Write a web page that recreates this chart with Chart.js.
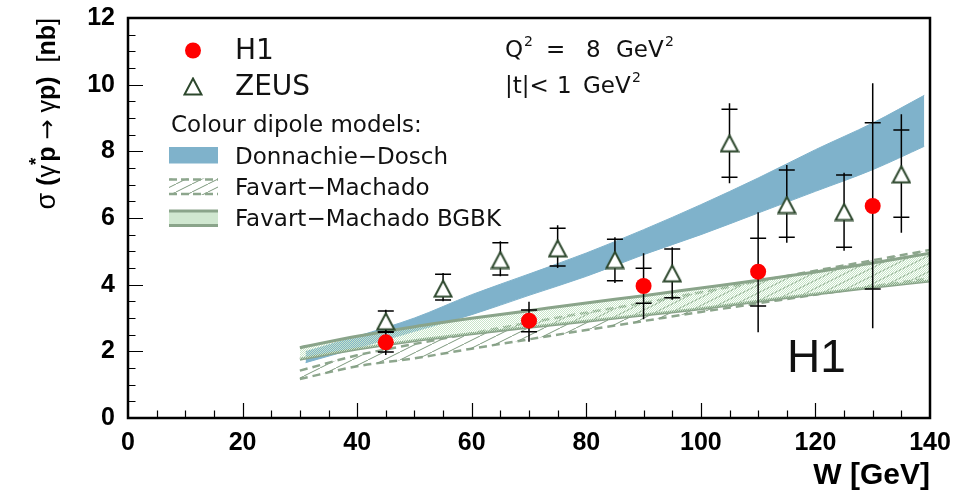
<!DOCTYPE html>
<html>
<head>
<meta charset="utf-8">
<script src="https://cdn.jsdelivr.net/npm/chart.js@4.4.1/dist/chart.umd.min.js"></script>
<style>
  html, body { margin: 0; padding: 0; background: #ffffff; }
  #wrap { width: 954px; height: 503px; position: relative; }
</style>
</head>
<body>
<div id="wrap"><canvas id="c" width="954" height="503"></canvas></div>
<script>
// ---- Measurements: DVCS cross section vs W ----
const h1W        = [45, 70, 90, 110, 130];
const h1Sigma    = [2.27, 2.92, 3.96, 4.39, 6.36];
const h1StatHi   = [2.57, 3.24, 4.49, 5.39, 8.86];
const h1StatLo   = [1.98, 2.59, 3.44, 3.36, 3.87];
const h1TotHi    = [2.64, 3.49, 4.94, 6.17, 10.04];
const h1TotLo    = [1.89, 2.29, 2.96, 2.57, 2.69];

const zeusW      = [45, 55, 65, 75, 85, 95, 105, 115, 125, 135];
const zeusSigma  = [2.90, 3.88, 4.74, 5.09, 4.74, 4.34, 8.24, 6.39, 6.18, 7.31];
const zeusStatHi = [3.21, 4.31, 5.26, 5.69, 5.36, 5.07, 9.26, 7.44, 7.29, 8.64];
const zeusStatLo = [2.59, 3.54, 4.29, 4.56, 4.12, 3.61, 7.22, 5.42, 5.12, 6.02];
const zeusTotHi  = [3.25, 4.35, 5.30, 5.78, 5.42, 5.12, 9.44, 7.59, 7.36, 9.11];
const zeusTotLo  = [2.55, 3.50, 4.25, 4.50, 4.05, 3.55, 7.04, 5.26, 5.02, 5.56];

// ---- Colour dipole model bands ----
const ddW        = [31, 40, 50, 60, 70, 80, 90, 100, 110, 120, 130, 139];
const ddLow      = [1.66, 2.10, 2.60, 3.10, 3.68, 4.25, 4.90, 5.50, 6.15, 6.80, 7.45, 8.15];
const ddHigh     = [1.99, 2.45, 3.00, 3.70, 4.32, 4.95, 5.65, 6.40, 7.20, 8.05, 8.85, 9.68];

const modelW     = [30, 40, 50, 60, 70, 80, 90, 100, 110, 120, 130, 140];
const fmHigh     = [1.42, 1.88, 2.22, 2.54, 2.86, 3.16, 3.45, 3.77, 4.10, 4.42, 4.73, 5.04];
const fmLow      = [1.17, 1.55, 1.79, 2.08, 2.36, 2.64, 2.91, 3.18, 3.44, 3.70, 3.95, 4.19];
const bgbkHigh   = [2.11, 2.45, 2.74, 2.99, 3.22, 3.45, 3.67, 3.90, 4.13, 4.38, 4.65, 4.94];
const bgbkLow    = [1.76, 2.07, 2.32, 2.53, 2.72, 2.90, 3.09, 3.28, 3.50, 3.72, 3.92, 4.11];

// ---- Axis ticks ----
const xMajorTicks = [0, 20, 40, 60, 80, 100, 120, 140];
const yMajorTicks = [0, 2, 4, 6, 8, 10, 12];

// ---- Styles ----
const DD_BLUE   = 'rgb(127,178,203)';
const FM_GREEN  = 'rgb(141,166,141)';
const BG_GREEN  = 'rgb(138,164,138)';
const ZEUS_EDGE = 'rgb(45,72,45)';
const H1_RED    = '#ff0000';
const AXIS_FONT = '"Liberation Sans", Arial, sans-serif';
const SYM_FONT  = '"DejaVu Sans", sans-serif';

function pts(xs, ys) { return xs.map((x, i) => ({ x: x, y: ys[i] })); }

// checker fill for the BGBK band
function makeChecker() {
  const c = document.createElement('canvas');
  c.width = 2; c.height = 2;
  const g = c.getContext('2d');
  g.fillStyle = 'rgb(200,229,200)';
  g.fillRect(0, 0, 1, 1);
  g.fillRect(1, 1, 1, 1);
  return g.createPattern(c, 'repeat');
}
// diagonal hatch for the Favart-Machado band
function makeHatch() {
  const c = document.createElement('canvas');
  c.width = 16; c.height = 8;
  const g = c.getContext('2d');
  g.strokeStyle = 'rgb(125,152,125)';
  g.lineWidth = 1;
  g.beginPath();
  g.moveTo(-2, 9); g.lineTo(18, -1);
  g.stroke();
  return g.createPattern(c, 'repeat');
}
// open triangle marker, centred on its bounding box
function makeTriangle() {
  const c = document.createElement('canvas');
  c.width = 20; c.height = 19;
  const g = c.getContext('2d');
  g.beginPath();
  g.moveTo(10, 1.5); g.lineTo(18.5, 17.5); g.lineTo(1.5, 17.5); g.closePath();
  g.fillStyle = '#ffffff'; g.fill();
  g.strokeStyle = ZEUS_EDGE; g.lineWidth = 2; g.lineJoin = 'miter';
  g.stroke();
  return c;
}

const checker = makeChecker();
const hatch = makeHatch();
const triMarker = makeTriangle();

// error bars: full line for the total error, short crossbars at the statistical error
const errorBars = {
  id: 'errorBars',
  beforeDatasetDraw(chart, args) {
    const ds = chart.data.datasets[args.index];
    if (!ds.errTotHi) return;
    const xs = chart.scales.x, ys = chart.scales.y, ctx = chart.ctx;
    ctx.save();
    ctx.strokeStyle = '#000';
    ctx.lineWidth = 1.5;
    ds.data.forEach((p, i) => {
      const px = xs.getPixelForValue(p.x);
      ctx.beginPath();
      ctx.moveTo(px, ys.getPixelForValue(ds.errTotHi[i]));
      ctx.lineTo(px, ys.getPixelForValue(ds.errTotLo[i]));
      [ds.errStatHi[i], ds.errStatLo[i]].forEach(v => {
        const py = ys.getPixelForValue(v);
        ctx.moveTo(px - 8, py); ctx.lineTo(px + 8, py);
      });
      ctx.stroke();
    });
    ctx.restore();
  }
};

// frame, inward ticks, y title, legend and annotations
const decorations = {
  id: 'decorations',
  afterDraw(chart) {
    const ctx = chart.ctx, a = chart.chartArea;
    const xs = chart.scales.x, ys = chart.scales.y;
    ctx.save();
    // ticks
    ctx.strokeStyle = '#000'; ctx.lineWidth = 1.2;
    ctx.beginPath();
    for (let v = 5; v < 140; v += 5) {
      const px = Math.round(xs.getPixelForValue(v)) + 0.5;
      const len = (v % 20 === 0) ? 15 : 7.5;
      ctx.moveTo(px, a.bottom); ctx.lineTo(px, a.bottom - len);
    }
    for (let v = 0.5; v < 12; v += 0.5) {
      const py = Math.round(ys.getPixelForValue(v)) + 0.5;
      const len = (v % 2 === 0) ? 15 : 7.5;
      ctx.moveTo(a.left, py); ctx.lineTo(a.left + len, py);
    }
    ctx.stroke();
    // frame
    ctx.lineWidth = 2.5;
    ctx.strokeRect(a.left, a.top, a.right - a.left, a.bottom - a.top);

    // y-axis title, rotated, ending at the top of the axis
    // [text, weight, size, raise, advance factor, family]
    const segs = [
      ['σ', 'normal', 27, 0, 1, AXIS_FONT],
      [' (', 'bold', 25, 0, 1, AXIS_FONT],
      ['γ', 'normal', 25, 0, 1, AXIS_FONT],
      ['*', 'bold', 19, -13, 0.45, AXIS_FONT],
      ['p', 'bold', 25, 0, 1, AXIS_FONT],
      [' ', 'normal', 25, 0, 1, AXIS_FONT],
      ['→', 'normal', 24, 0, 1, SYM_FONT],
      [' ', 'normal', 25, 0, 1, AXIS_FONT],
      ['γ', 'normal', 25, 0, 1, AXIS_FONT],
      ['p', 'bold', 25, 0, 1, AXIS_FONT],
      [')', 'bold', 25, 0, 1, AXIS_FONT],
      ['  [', 'normal', 25, 0, 1, AXIS_FONT],
      ['nb', 'bold', 25, 0, 1, AXIS_FONT],
      [']', 'normal', 25, 0, 1, AXIS_FONT]
    ];
    let total = 0;
    const widths = segs.map(s => {
      ctx.font = s[1] + ' ' + s[2] + 'px ' + s[5];
      const w = ctx.measureText(s[0]).width * s[4];
      total += w; return w;
    });
    ctx.save();
    ctx.translate(55, a.top + total);
    ctx.rotate(-Math.PI / 2);
    ctx.fillStyle = '#000';
    ctx.textBaseline = 'alphabetic';
    let cx = 0;
    segs.forEach((s, i) => {
      ctx.font = s[1] + ' ' + s[2] + 'px ' + s[5];
      ctx.fillText(s[0], cx, s[3]);
      cx += widths[i];
    });
    ctx.restore();

    // legend
    const LF = SYM_FONT;
    ctx.textBaseline = 'alphabetic';
    ctx.beginPath(); ctx.arc(193, 50.5, 8, 0, Math.PI * 2);
    ctx.fillStyle = H1_RED; ctx.fill();
    ctx.drawImage(triMarker, 193 - 10, 86.5 - 9.5);
    ctx.fillStyle = '#111';
    ctx.font = '28px ' + LF;
    ctx.fillText('H1', 235, 58.5);
    ctx.fillText('ZEUS', 235, 95);
    ctx.font = '23px ' + LF;
    ctx.fillText('Colour dipole models:', 171, 131.5);
    ctx.fillText('Donnachie−Dosch', 235, 163.5);
    ctx.fillText('Favart−Machado', 235, 195);
    ctx.fillText('Favart−Machado BGBK', 235, 226);
    // legend swatches
    ctx.fillStyle = DD_BLUE;
    ctx.fillRect(169, 147, 49, 16.5);
    ctx.fillStyle = hatch;
    ctx.fillRect(169, 178.5, 49, 16.5);
    ctx.strokeStyle = FM_GREEN; ctx.lineWidth = 2.5; ctx.setLineDash([8, 4]);
    ctx.beginPath();
    ctx.moveTo(169, 179.5); ctx.lineTo(218, 179.5);
    ctx.moveTo(169, 194); ctx.lineTo(218, 194);
    ctx.stroke();
    ctx.setLineDash([]);
    ctx.fillStyle = 'rgb(208,231,208)';
    ctx.fillRect(169, 211, 49, 15);
    ctx.strokeStyle = BG_GREEN; ctx.lineWidth = 3;
    ctx.beginPath();
    ctx.moveTo(169, 211); ctx.lineTo(218, 211);
    ctx.moveTo(169, 225.5); ctx.lineTo(218, 225.5);
    ctx.stroke();

    // kinematic range
    ctx.fillStyle = '#111';
    ctx.font = '23px ' + LF;
    ctx.fillText('Q', 505, 57);
    ctx.fillText('=', 546, 57);
    ctx.fillText('8', 586, 57);
    ctx.fillText('GeV', 616, 57);
    ctx.fillText('|t|<', 505, 93);
    ctx.fillText('1', 557, 93);
    ctx.fillText('GeV', 583, 93);
    ctx.font = '14px ' + LF;
    ctx.fillText('2', 524, 46);
    ctx.fillText('2', 665, 46);
    ctx.fillText('2', 632, 82);

    // experiment label
    ctx.font = '46px ' + AXIS_FONT;
    ctx.fillText('H1', 787, 372);
    ctx.restore();
  }
};

const chart = new Chart(document.getElementById('c'), {
  type: 'line',
  data: {
    datasets: [
      // 0,1 Favart-Machado
      { data: pts(modelW, fmHigh), borderColor: FM_GREEN, borderWidth: 2.5, borderDash: [8, 5],
        pointRadius: 0, fill: '+1', backgroundColor: hatch, order: 5, cubicInterpolationMode: 'monotone' },
      { data: pts(modelW, fmLow), borderColor: FM_GREEN, borderWidth: 2.5, borderDash: [8, 5],
        pointRadius: 0, fill: false, order: 5, cubicInterpolationMode: 'monotone' },
      // 2,3 Donnachie-Dosch
      { data: pts(ddW, ddHigh), borderColor: DD_BLUE, borderWidth: 1,
        pointRadius: 0, fill: '+1', backgroundColor: DD_BLUE, order: 4, cubicInterpolationMode: 'monotone' },
      { data: pts(ddW, ddLow), borderColor: DD_BLUE, borderWidth: 1,
        pointRadius: 0, fill: false, order: 4, cubicInterpolationMode: 'monotone' },
      // 4,5 Favart-Machado BGBK
      { data: pts(modelW, bgbkHigh), borderColor: BG_GREEN, borderWidth: 3,
        pointRadius: 0, fill: '+1', backgroundColor: checker, order: 3, cubicInterpolationMode: 'monotone' },
      { data: pts(modelW, bgbkLow), borderColor: BG_GREEN, borderWidth: 3,
        pointRadius: 0, fill: false, order: 3, cubicInterpolationMode: 'monotone' },
      // 6 ZEUS
      { label: 'ZEUS', data: pts(zeusW, zeusSigma), showLine: false, pointStyle: triMarker,
        pointRadius: 9, order: 2,
        errStatHi: zeusStatHi, errStatLo: zeusStatLo, errTotHi: zeusTotHi, errTotLo: zeusTotLo },
      // 7 H1
      { label: 'H1', data: pts(h1W, h1Sigma), showLine: false, pointStyle: 'circle',
        pointRadius: 8, pointBackgroundColor: H1_RED, pointBorderWidth: 0, order: 1,
        errStatHi: h1StatHi, errStatLo: h1StatLo, errTotHi: h1TotHi, errTotLo: h1TotLo }
    ]
  },
  options: {
    responsive: false,
    animation: false,
    devicePixelRatio: 1,
    layout: { padding: { top: 18, right: 24, left: 0, bottom: 0 } },
    plugins: { legend: { display: false }, tooltip: { enabled: false } },
    scales: {
      x: {
        type: 'linear', min: 0, max: 140,
        afterBuildTicks(scale) { scale.ticks = xMajorTicks.map(v => ({ value: v })); },
        afterFit(scale) {
          scale.height = 85;
          scale.paddingLeft = 0; scale.paddingRight = 0;
        },
        grid: { display: false, drawTicks: false },
        border: { display: false },
        ticks: { color: '#000', padding: 10, maxRotation: 0, autoSkip: false,
                 font: { family: AXIS_FONT, weight: 'bold', size: 25 } },
        title: { display: true, text: 'W [GeV]', align: 'end', color: '#000',
                 font: { family: AXIS_FONT, weight: 'bold', size: 30 },
                 padding: { top: 0, bottom: 9 } }
      },
      y: {
        type: 'linear', min: 0, max: 12,
        afterBuildTicks(scale) { scale.ticks = yMajorTicks.map(v => ({ value: v })); },
        afterFit(scale) {
          scale.width = 128;
          scale.paddingTop = 0; scale.paddingBottom = 0;
        },
        grid: { display: false, drawTicks: false },
        border: { display: false },
        ticks: { color: '#000', padding: 13, autoSkip: false,
                 font: { family: AXIS_FONT, weight: 'bold', size: 25 } }
      }
    }
  },
  plugins: [errorBars, decorations]
});
</script>
</body>
</html>
